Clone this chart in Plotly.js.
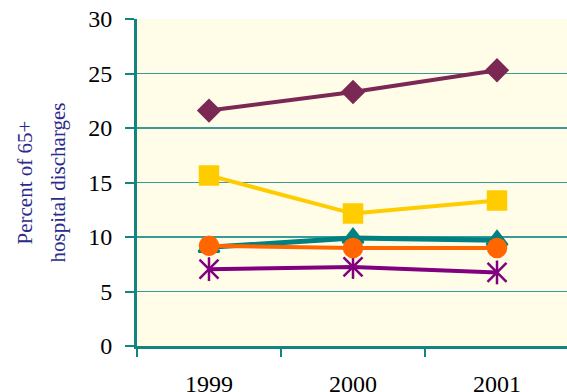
<!DOCTYPE html>
<html><head><meta charset="utf-8">
<script src="https://cdn.plot.ly/plotly-3.0.1.min.js"></script>
<style>html,body{margin:0;padding:0;background:#fff;overflow:hidden}</style>
</head><body>
<div id="chart" style="width:567px;height:392px"></div>
<script>
const years = ["1999", "2000", "2001"];
const diamondSeries = [21.6, 23.3, 25.3];
const squareSeries = [15.65, 12.15, 13.35];
const triangleSeries = [9.05, 9.9, 9.7];
const circleSeries = [9.2, 9.0, 9.0];
const starSeries = [7.05, 7.25, 6.75];
const yTicks = [0, 5, 10, 15, 20, 25, 30];
const titleLines = ["Percent of 65+", "hospital discharges"];

const teal = "#138580";
function tr(y, color, symbol, size, lw, showLine) {
  return {
    x: years, y: y, type: "scatter",
    mode: showLine ? "lines+markers" : "markers",
    line: {color: color, width: lw},
    marker: {symbol: symbol, size: size, color: color, line: {color: color, width: 2.5}},
    showlegend: false, hoverinfo: "skip", cliponaxis: false
  };
}
const data = [
  tr(starSeries, "#800080", "x-thin-open", 19, 4, true),
  tr(starSeries, "#800080", "line-ns-open", 17, 4, false),
  tr(triangleSeries, "#008080", "triangle-up", 18, 5, true),
  tr(circleSeries, "#FF6600", "circle", 18, 4, true),
  tr(squareSeries, "#FFCC00", "square", 18, 4, true),
  tr(diamondSeries, "#7B2855", "diamond", 16, 4, true)
];
const layout = {
  width: 567, height: 392,
  margin: {l: 137, r: 0, t: 19, b: 46},
  paper_bgcolor: "#ffffff",
  plot_bgcolor: "#FFFDE8",
  font: {family: "Liberation Serif, Times New Roman, serif", color: "#000", size: 24},
  xaxis: {
    type: "category", range: [-0.5, 2.486], tickson: "boundaries",
    ticks: "outside", ticklen: 8, tickwidth: 2, tickcolor: teal,
    showline: true, linecolor: teal, linewidth: 3,
    showgrid: false, zeroline: false, ticklabelstandoff: 14,
    tickfont: {size: 24}
  },
  yaxis: {
    range: [0, 30], tickvals: yTicks, ticktext: yTicks.map(String),
    ticks: "outside", ticklen: 9, tickwidth: 2, tickcolor: teal,
    showline: true, linecolor: teal, linewidth: 3,
    showgrid: true, gridcolor: "#3a9a95", gridwidth: 1.5,
    zeroline: false, ticklabelstandoff: 8,
    tickfont: {size: 24}
  },
  annotations: [
    {text: titleLines[0], xref: "paper", yref: "paper", x: -0.2605, y: 0.5,
     xanchor: "center", yanchor: "middle", textangle: -90, showarrow: false,
     font: {size: 21, color: "#2B2B8C"}},
    {text: titleLines[1], xref: "paper", yref: "paper", x: -0.186, y: 0.5,
     xanchor: "center", yanchor: "middle", textangle: -90, showarrow: false,
     font: {size: 21, color: "#2B2B8C"}}
  ]
};
Plotly.newPlot("chart", data, layout, {displayModeBar: false, staticPlot: true});
</script>
</body></html>
